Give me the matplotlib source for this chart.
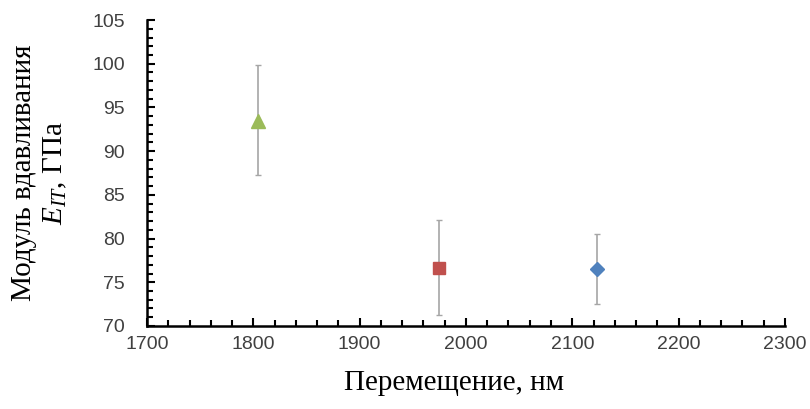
import matplotlib
matplotlib.use("Agg")
import matplotlib.pyplot as plt
from matplotlib.ticker import MultipleLocator

# data
displacement = [2123, 1975, 1804]          # nm
modulus = [76.5, 76.6, 93.5]               # GPa
err_low = [4.0, 5.4, 6.2]
err_high = [4.0, 5.5, 6.3]
markers = ["D", "s", "^"]
colors = ["#4F81BD", "#C0504D", "#9BBB59"]
msizes = [7, 9, 10]

plt.rcParams["mathtext.fontset"] = "custom"
plt.rcParams["mathtext.rm"] = "Liberation Serif"
plt.rcParams["mathtext.it"] = "Liberation Serif:italic"

fig = plt.figure(figsize=(8.1, 4.09), dpi=100)
ax = fig.add_axes([0.1815, 0.203, 0.7875, 0.748])

for x, y, lo, hi, m, c, s in zip(displacement, modulus, err_low, err_high,
                                 markers, colors, msizes):
    ax.errorbar(x, y, yerr=[[lo], [hi]], fmt="none", ecolor="#A6A6A6",
                elinewidth=1.2, capsize=2.5, capthick=1, zorder=2)
    ax.plot(x, y, marker=m, color=c, markersize=s, linestyle="none", zorder=3)

ax.set_xlim(1700, 2300)
ax.set_ylim(70, 105)
ax.xaxis.set_major_locator(MultipleLocator(100))
ax.xaxis.set_minor_locator(MultipleLocator(20))
ax.yaxis.set_major_locator(MultipleLocator(5))
ax.yaxis.set_minor_locator(MultipleLocator(1))

for side in ["top", "right"]:
    ax.spines[side].set_visible(False)
for side in ["left", "bottom"]:
    ax.spines[side].set_linewidth(1.8)

ax.tick_params(which="both", direction="in", width=1.5, colors="black")
ax.tick_params(which="major", length=6)
ax.tick_params(which="minor", length=4)
ax.tick_params(axis="x", pad=7)
ax.tick_params(axis="y", pad=16)
for lab in ax.get_xticklabels() + ax.get_yticklabels():
    lab.set_fontfamily("Liberation Sans")
    lab.set_fontsize(14)
    lab.set_color("#404040")

ax.set_xlabel("Перемещение, нм", fontfamily="Liberation Serif", fontsize=21,
              va="center")
ax.xaxis.set_label_coords(0.481, -0.186)
ax.set_ylabel("Модуль вдавливания\n$E_{IT}$, ГПа", fontfamily="Liberation Serif",
              fontsize=21, linespacing=1.25, va="center")
ax.yaxis.set_label_coords(-0.168, 0.5)

fig.savefig("out.png", dpi=100)
